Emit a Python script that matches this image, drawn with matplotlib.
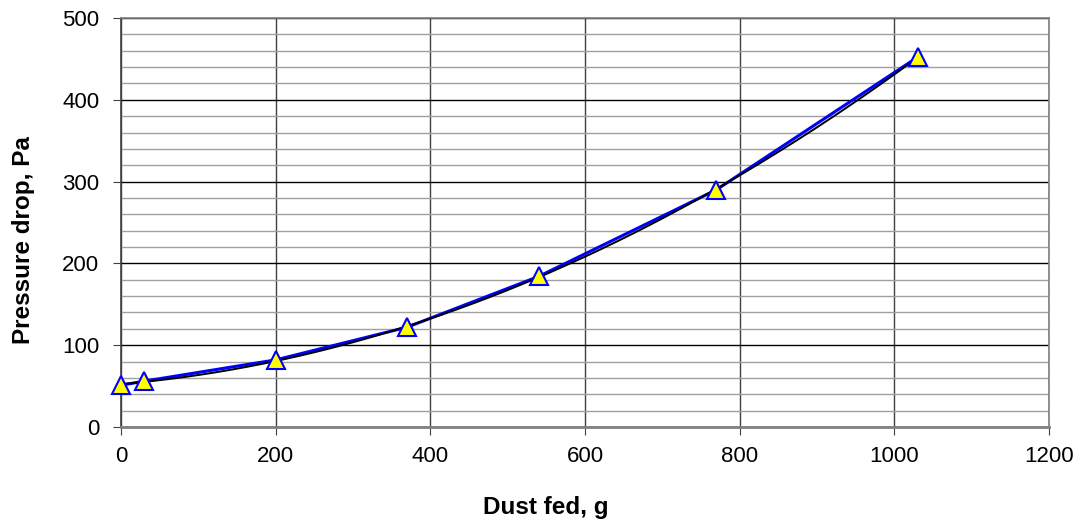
import numpy as np
import matplotlib
matplotlib.use("Agg")
import matplotlib.pyplot as plt
from matplotlib.ticker import MultipleLocator

plt.rcParams['font.family'] = ['Liberation Sans', 'DejaVu Sans']

dust_fed = [0, 30, 200, 370, 540, 770, 1030]
pressure_drop = [51, 56, 82, 122, 184, 290, 452]

# 2nd order polynomial trendline through the measured points
coef = np.polyfit(dust_fed, pressure_drop, 2)
trend_x = np.linspace(min(dust_fed), max(dust_fed), 200)
trend_y = np.polyval(coef, trend_x)

fig = plt.figure(figsize=(10.84, 5.23), dpi=100)
ax = fig.add_axes([0.1116, 0.1836, 0.8561, 0.782])

ax.set_xlim(0, 1200)
ax.set_ylim(0, 500)
ax.xaxis.set_major_locator(MultipleLocator(200))
ax.yaxis.set_major_locator(MultipleLocator(100))
ax.yaxis.set_minor_locator(MultipleLocator(20))

ax.grid(which='minor', axis='y', color='#a0a0a0', linewidth=1.0)
ax.grid(which='major', axis='y', color='black', linewidth=1.0)
ax.grid(which='major', axis='x', color='#404040', linewidth=1.0)
ax.set_axisbelow(True)

ax.plot(dust_fed, pressure_drop, color='#0000ff', linewidth=2.2, zorder=3)
ax.plot(trend_x, trend_y, color='black', linewidth=1.4, zorder=4)
ax.plot(dust_fed, pressure_drop, linestyle='none', marker='^', markersize=13,
        markerfacecolor='#ffff00', markeredgecolor='#0000ff', markeredgewidth=1.5,
        zorder=5, clip_on=False)

for s in ax.spines.values():
    s.set_color('#808080')
    s.set_linewidth(1.2)
ax.spines['bottom'].set_linewidth(2)
ax.spines['left'].set_color('#404040')

ax.tick_params(which='major', direction='out', length=5.5, color='#404040',
               labelsize=16)
ax.tick_params(axis='x', pad=8)
ax.tick_params(axis='y', pad=10)
ax.tick_params(which='minor', length=0)

ax.set_xlabel('Dust fed, g', fontsize=17.5, fontweight='bold')
ax.set_ylabel('Pressure drop, Pa', fontsize=17.5, fontweight='bold')
# labels sit a bit off the axes centre, as in the original
ax.xaxis.set_label_coords(0.458, -0.169)
ax.yaxis.set_label_coords(-0.093, 0.457)

fig.savefig('out.png', dpi=100)
